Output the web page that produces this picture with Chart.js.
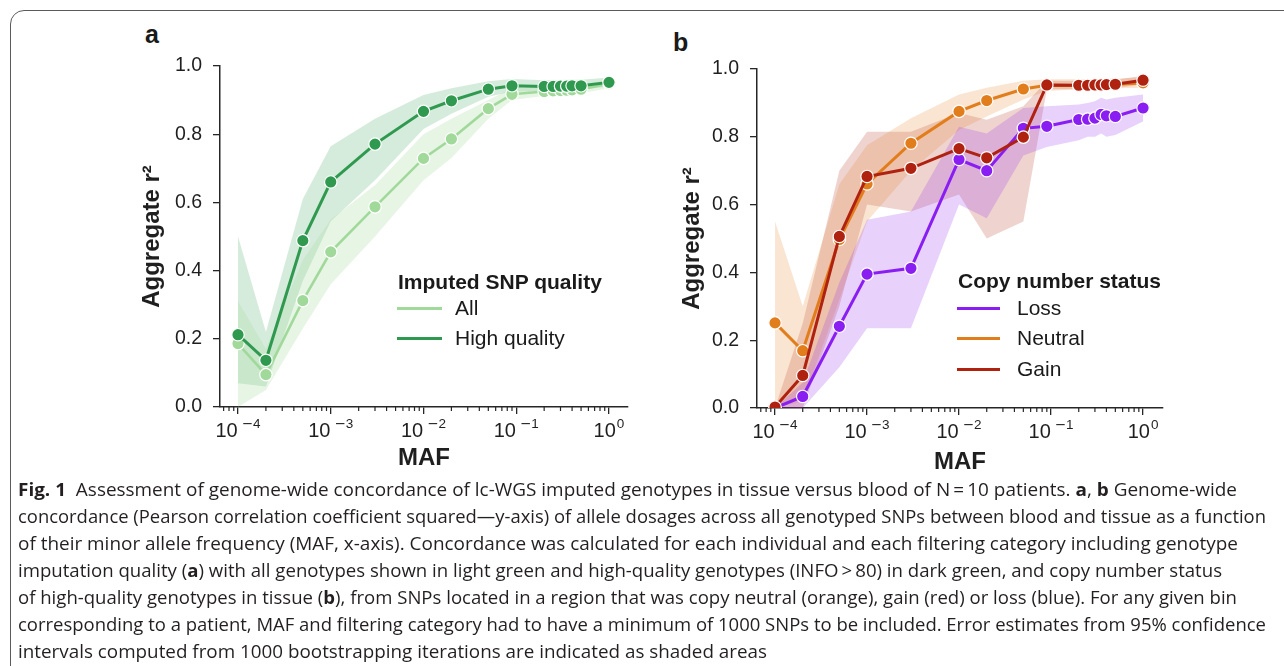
<!DOCTYPE html>
<html>
<head>
<meta charset="utf-8">
<title>Fig. 1 — genome-wide concordance</title>
<script src="https://cdn.jsdelivr.net/npm/chart.js@4.4.1/dist/chart.umd.min.js"></script>
<style>
  html, body { margin: 0; padding: 0; background: #fff; }
  body {
    width: 1284px; height: 666px; position: relative; overflow: hidden;
    font-family: "Liberation Sans", Arial, sans-serif; color: #1a1a1a;
  }
  #frame {
    position: absolute; left: 10px; top: 10px; width: 1320px; height: 720px;
    border: 1px solid #5a5a5a; border-radius: 14px; box-sizing: border-box;
  }
  canvas { position: absolute; }
  .letter { position: absolute; font-weight: bold; font-size: 25px; line-height: 25px; }
  .lg-title { position: absolute; font-weight: bold; font-size: 21px; line-height: 24px; white-space: nowrap; }
  .lg-label { position: absolute; font-size: 21px; line-height: 24px; white-space: nowrap; }
  .lg-swatch { position: absolute; height: 3px; }
  #caption {
    position: absolute; left: 18px; top: 474.5px;
    font-family: "Open Sans", "Noto Sans", sans-serif; font-size: 18.5px; color: #231f20;
  }
  #caption .line { height: 27px; line-height: 27px; white-space: nowrap; transform-origin: 0 50%; width: max-content; }
</style>
</head>
<body>
<div id="frame"></div>

<div class="letter" style="left:145px; top:22px;">a</div>
<div class="letter" style="left:673px; top:30px;">b</div>

<canvas id="chart-a" width="520" height="440" style="left:130px; top:40px;"></canvas>
<canvas id="chart-b" width="520" height="440" style="left:665px; top:40px;"></canvas>

<div id="legend-a"></div>
<div id="legend-b"></div>

<div id="caption">
  <div class="line"><b>Fig. 1</b>&nbsp; Assessment of genome-wide concordance of lc-WGS imputed genotypes in tissue versus blood of N&#8201;=&#8201;10 patients. <b>a</b>, <b>b</b> Genome-wide</div>
  <div class="line">concordance (Pearson correlation coefficient squared—y-axis) of allele dosages across all genotyped SNPs between blood and tissue as a function</div>
  <div class="line">of their minor allele frequency (MAF, x-axis). Concordance was calculated for each individual and each filtering category including genotype</div>
  <div class="line">imputation quality (<b>a</b>) with all genotypes shown in light green and high-quality genotypes (INFO&#8201;&gt;&#8201;80) in dark green, and copy number status</div>
  <div class="line">of high-quality genotypes in tissue (<b>b</b>), from SNPs located in a region that was copy neutral (orange), gain (red) or loss (blue). For any given bin</div>
  <div class="line">corresponding to a patient, MAF and filtering category had to have a minimum of 1000 SNPs to be included. Error estimates from 95% confidence</div>
  <div class="line">intervals computed from 1000 bootstrapping iterations are indicated as shaded areas</div>
</div>

<script>
/* ===================== DATA ===================== */

const MAF = [1e-4, 2e-4, 5e-4, 1e-3, 3e-3, 1e-2, 2e-2, 5e-2, 0.09, 0.2, 0.25, 0.3, 0.35, 0.4, 0.5, 1.0];

const Y_TICKS = [0, 0.2, 0.4, 0.6, 0.8, 1.0];
const X_MAJOR = [1e-4, 1e-3, 1e-2, 1e-1, 1];
const X_EXP = [-4, -3, -2, -1, 0];
const MINOR_MULT = [2, 3, 4, 5, 6, 7, 8, 9];
const MINOR_DECADES = [1e-5, 1e-4, 1e-3, 1e-2, 1e-1];

// panel a — imputed SNP quality
const A_NAMES = ["All", "High quality"];
const A_ALL = [0.186, 0.095, 0.312, 0.455, 0.587, 0.729, 0.786, 0.875, 0.917, 0.925, 0.927, 0.928, 0.929, 0.930, 0.932, 0.948];
const A_ALL_LO = [0.0, 0.05, 0.23, 0.36, 0.50, 0.665, 0.73, 0.845, 0.90, 0.912, 0.914, 0.915, 0.916, 0.918, 0.92, 0.935];
const A_ALL_HI = [0.31, 0.17, 0.43, 0.55, 0.65, 0.80, 0.845, 0.90, 0.935, 0.94, 0.94, 0.942, 0.943, 0.944, 0.945, 0.96];
const A_HQ = [0.212, 0.137, 0.488, 0.660, 0.771, 0.867, 0.898, 0.932, 0.942, 0.940, 0.940, 0.941, 0.941, 0.942, 0.942, 0.952];
const A_HQ_LO = [0.07, 0.06, 0.37, 0.545, 0.665, 0.815, 0.86, 0.91, 0.925, 0.925, 0.926, 0.927, 0.927, 0.928, 0.93, 0.94];
const A_HQ_HI = [0.50, 0.22, 0.61, 0.765, 0.845, 0.915, 0.935, 0.955, 0.962, 0.958, 0.958, 0.959, 0.96, 0.96, 0.96, 0.966];

// panel b — copy number status
const B_NAMES = ["Loss", "Neutral", "Gain"];
const B_LOSS = [0.0, 0.034, 0.241, 0.395, 0.412, 0.733, 0.700, 0.825, 0.831, 0.851, 0.852, 0.855, 0.866, 0.862, 0.860, 0.885];
const B_LOSS_LO = [0.0, 0.0, 0.12, 0.235, 0.235, 0.60, 0.56, 0.745, 0.77, 0.79, 0.80, 0.80, 0.81, 0.80, 0.805, 0.845];
const B_LOSS_HI = [0.0, 0.075, 0.37, 0.555, 0.58, 0.83, 0.81, 0.885, 0.89, 0.895, 0.90, 0.905, 0.915, 0.91, 0.915, 0.925];
const B_NEUTRAL = [0.251, 0.169, 0.497, 0.661, 0.781, 0.875, 0.907, 0.941, 0.952, 0.951, 0.951, 0.952, 0.953, 0.954, 0.955, 0.959];
const B_NEUTRAL_LO = [0.0, 0.02, 0.32, 0.55, 0.70, 0.82, 0.86, 0.91, 0.935, 0.94, 0.94, 0.94, 0.942, 0.942, 0.943, 0.945];
const B_NEUTRAL_HI = [0.55, 0.30, 0.66, 0.775, 0.855, 0.925, 0.945, 0.965, 0.97, 0.97, 0.97, 0.97, 0.971, 0.972, 0.972, 0.975];
const B_GAIN = [0.003, 0.096, 0.506, 0.683, 0.707, 0.765, 0.738, 0.799, 0.953, 0.952, 0.952, 0.953, 0.953, 0.954, 0.955, 0.967];
const B_GAIN_LO = [0.0, 0.0, 0.30, 0.60, 0.58, 0.63, 0.50, 0.55, 0.94, 0.94, 0.94, 0.94, 0.942, 0.942, 0.943, 0.955];
const B_GAIN_HI = [0.0, 0.25, 0.70, 0.815, 0.815, 0.87, 0.85, 0.89, 0.965, 0.965, 0.965, 0.966, 0.966, 0.967, 0.968, 0.98];

// caption line right ends (px), one per line
const CAPTION_ENDS = [1237, 1266, 1238, 1222, 1237, 1266, 767];

/* ===================== STYLE ===================== */

const INK = "#1f1f1f";
const FONT = "'Liberation Sans', Arial, sans-serif";
const GREEN_LIGHT = "#a1d99b";
const GREEN_DARK = "#2f9a4f";
const PURPLE = "#8a1ef2";
const ORANGE = "#e27d1c";
const RED = "#b02210";

Chart.defaults.font.family = FONT;
Chart.defaults.color = INK;

function rgba(hex, a) {
  const n = parseInt(hex.slice(1), 16);
  return `rgba(${(n >> 16) & 255}, ${(n >> 8) & 255}, ${n & 255}, ${a})`;
}

function pts(ys) {
  return MAF.map((x, i) => ({ x, y: ys[i] }));
}

function bound(ys) {
  return {
    data: pts(ys), borderColor: "rgba(0,0,0,0)", borderWidth: 0,
    pointRadius: 0, pointHoverRadius: 0, fill: false, order: 9,
  };
}

function band(ys, target, color, alpha) {
  return Object.assign(bound(ys), { fill: target, backgroundColor: rgba(color, alpha) });
}

function series(label, ys, color, order, width = 3) {
  return {
    label, data: pts(ys), borderColor: color, borderWidth: width,
    pointRadius: 6.2, pointHoverRadius: 6.2, pointBackgroundColor: color,
    pointBorderColor: "#fff", pointBorderWidth: 1.2, tension: 0, fill: false, order,
  };
}

/* ===================== PLUGIN: log ticks ===================== */

const logTicks = {
  id: "logTicks",
  afterDraw(chart) {
    const xs = chart.scales.x;
    const ctx = chart.ctx;
    const y0 = xs.top;
    ctx.save();
    ctx.strokeStyle = "#262626";
    ctx.lineWidth = 1.2;
    MINOR_DECADES.forEach((d) => {
      MINOR_MULT.forEach((m) => {
        const v = d * m;
        if (v < xs.min || v > xs.max) return;
        const px = xs.getPixelForValue(v);
        ctx.beginPath();
        ctx.moveTo(px, y0);
        ctx.lineTo(px, y0 + 4);
        ctx.stroke();
      });
    });
    ctx.fillStyle = INK;
    ctx.textBaseline = "alphabetic";
    X_MAJOR.forEach((v, i) => {
      const px = xs.getPixelForValue(v);
      const e = X_EXP[i];
      ctx.font = `20px ${FONT}`;
      const wBase = ctx.measureText("10").width;
      ctx.font = `13.5px 'DejaVu Sans', sans-serif`;
      const wMinus = e < 0 ? ctx.measureText("\u2212").width : 0;
      ctx.font = `13.5px ${FONT}`;
      const digit = String(Math.abs(e));
      const wDigit = ctx.measureText(digit).width;
      const gap = e < 0 ? 4 : 1;
      const total = wBase + gap + wMinus + wDigit;
      let x = px - total / 2;
      ctx.font = `20px ${FONT}`;
      ctx.fillText("10", x, y0 + 30);
      x += wBase + gap;
      if (e < 0) {
        ctx.font = `13.5px 'DejaVu Sans', sans-serif`;
        ctx.fillText("\u2212", x, y0 + 21);
        x += wMinus;
      }
      ctx.font = `13.5px ${FONT}`;
      ctx.fillText(digit, x, y0 + 21);
    });
    ctx.restore();
  },
};

/* ===================== CHART ===================== */

function makeChart(canvas, datasets, g) {
  return new Chart(canvas, {
    type: "line",
    data: { datasets },
    options: {
      responsive: false,
      animation: false,
      events: [],
      layout: { padding: g.pad },
      plugins: {
        legend: { display: false },
        tooltip: { enabled: false },
        filler: { drawTime: "beforeDatasetsDraw" },
      },
      scales: {
        x: {
          type: "logarithmic",
          min: g.xMin,
          max: g.xMax,
          afterBuildTicks: (s) => { s.ticks = X_MAJOR.map((v) => ({ value: v, major: true })); },
          afterFit: (s) => { s.height = g.xH; },
          ticks: { display: false },
          grid: { drawOnChartArea: false, drawTicks: true, tickLength: 7, color: "#262626", lineWidth: 1.3 },
          border: { display: true, color: "#262626", width: 1.5 },
          title: {
            display: true, text: "MAF", color: INK, padding: 0,
            font: { size: 24, weight: "bold", lineHeight: 1 },
          },
        },
        y: {
          type: "linear",
          min: 0,
          max: 1,
          afterBuildTicks: (s) => { s.ticks = Y_TICKS.map((v) => ({ value: v })); },
          afterFit: (s) => { s.width = g.yW; },
          ticks: { callback: (v) => Number(v).toFixed(1), font: { size: 19.5 }, color: INK, padding: 11 },
          grid: { drawOnChartArea: false, drawTicks: true, tickLength: 7, color: "#262626", lineWidth: 1.3 },
          border: { display: true, color: "#262626", width: 1.5 },
          title: {
            display: true, text: "Aggregate r²", color: INK, padding: 0,
            font: { size: 24, weight: "bold", lineHeight: 1 },
          },
        },
      },
    },
    plugins: [logTicks],
  });
}

/* ===================== LEGEND ===================== */

function buildLegend(el, title, names, colors, g) {
  let html = `<div class="lg-title" style="left:${g.titleX}px; top:${g.titleY - 12}px;">${title}</div>`;
  names.forEach((n, i) => {
    const cy = g.rows[i];
    html += `<div class="lg-swatch" style="left:${g.lineX0}px; width:${g.lineX1 - g.lineX0}px; top:${cy - 1.5}px; background:${colors[i]};"></div>`;
    html += `<div class="lg-label" style="left:${g.textX}px; top:${cy - 12}px;">${n}</div>`;
  });
  el.innerHTML = html;
}

/* ===================== BUILD ===================== */

const chartA = makeChart(document.getElementById("chart-a"), [
  bound(A_ALL_LO),
  band(A_ALL_HI, 0, GREEN_LIGHT, 0.26),
  bound(A_HQ_LO),
  band(A_HQ_HI, 2, GREEN_DARK, 0.2),
  series(A_NAMES[0], A_ALL, GREEN_LIGHT, 1, 2.6),
  series(A_NAMES[1], A_HQ, GREEN_DARK, 0, 3),
], {
  pad: { left: 10, top: 26, right: 22, bottom: 10 },
  yW: 80, xH: 63,
  xMin: Math.pow(10, -4.194), xMax: Math.pow(10, 0.205),
});

const chartB = makeChart(document.getElementById("chart-b"), [
  bound(B_LOSS_LO),
  band(B_LOSS_HI, 0, PURPLE, 0.2),
  bound(B_NEUTRAL_LO),
  band(B_NEUTRAL_HI, 2, ORANGE, 0.2),
  bound(B_GAIN_LO),
  band(B_GAIN_HI, 4, RED, 0.2),
  series(B_NAMES[0], B_LOSS, PURPLE, 2),
  series(B_NAMES[1], B_NEUTRAL, ORANGE, 1),
  series(B_NAMES[2], B_GAIN, RED, 0),
], {
  pad: { left: 15, top: 29, right: 22, bottom: 6 },
  yW: 77, xH: 66,
  xMin: Math.pow(10, -4.196), xMax: Math.pow(10, 0.217),
});

buildLegend(document.getElementById("legend-a"), "Imputed SNP quality", A_NAMES,
  [GREEN_LIGHT, GREEN_DARK],
  { titleX: 398, titleY: 282, rows: [308, 338], lineX0: 397, lineX1: 442, textX: 455 });

buildLegend(document.getElementById("legend-b"), "Copy number status", B_NAMES,
  [PURPLE, ORANGE, RED],
  { titleX: 958, titleY: 281, rows: [308, 338, 369], lineX0: 957, lineX1: 1000, textX: 1017 });

/* ===================== CAPTION FIT ===================== */

const CAPTION_LEFT = 18;
document.querySelectorAll("#caption .line").forEach((el, i) => {
  const w = el.getBoundingClientRect().width;
  el.style.transform = `scaleX(${(CAPTION_ENDS[i] - CAPTION_LEFT) / w})`;
});
</script>
</body>
</html>
